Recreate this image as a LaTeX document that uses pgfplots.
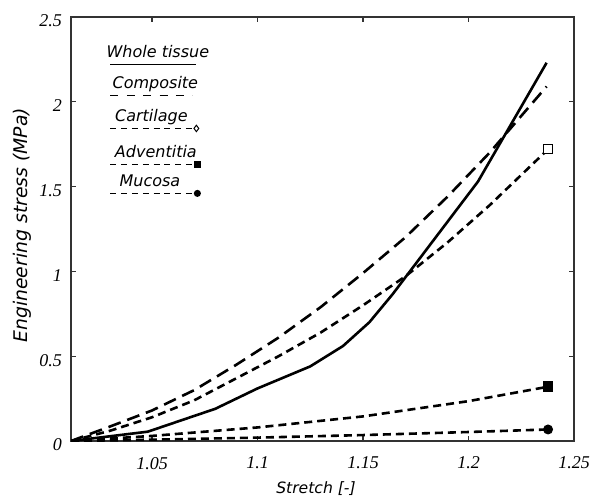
\documentclass[border=0pt]{standalone}
\usepackage{fontspec}
\setmainfont{DejaVu Sans}
\newfontfamily\tickfont{Liberation Serif}
\usepackage{pgfplots}
\pgfplotsset{compat=1.18}
\begin{document}
\begin{tikzpicture}
\begin{axis}[name=ax,
  width=251.5pt, height=212pt, scale only axis,
  xmin=1.0116, xmax=1.25, ymin=0, ymax=2.5,
  xtick={1.05,1.1,1.15,1.2,1.25},
  ytick={0,0.5,1,1.5,2,2.5},
  xticklabels={1.05,1.1,1.15,1.2,1.25},
  yticklabels={0,0.5,1,1.5,2,2.5},
  tick align=inside, major tick length=2.5pt,
  tick style={black!80, line width=0.6pt},
  axis line style={line width=0.8pt, black!80},
  /pgf/number format/assume math mode=true,
  tick label style={font=\tickfont\itshape\fontsize{9}{10}\selectfont},
  xticklabel style={yshift=-4.5pt},
  yticklabel style={xshift=-1pt, yshift=-2pt},
  xlabel={Stretch [-]},
  ylabel={Engineering stress (MPa)},
  xlabel style={at={(axis description cs:0.487,-0.112)}, anchor=center, font=\itshape\fontsize{7.8}{9}\selectfont},
  ylabel style={at={(axis description cs:-0.0974,0.509)}, anchor=center, rotate=0, font=\itshape\fontsize{9.4}{11}\selectfont},
  legend style={at={(axis description cs:0.0775,0.9269)}, anchor=north west, draw=none, fill=none, inner sep=0pt, row sep=0pt, column sep=0pt, nodes={inner sep=0pt, font=\itshape\fontsize{8}{9}\selectfont}},
  legend cell align=left,
]
% Whole tissue
\addplot[forget plot, black, line width=1.3pt, solid] coordinates {
(1.0116,0) (1.048,0.055) (1.080,0.19) (1.1,0.31) (1.125,0.44) (1.1405,0.56) (1.153,0.70) (1.164,0.865) (1.2045,1.53) (1.237,2.23)
};
% Composite
\addplot[forget plot, black, line width=1.3pt, dash pattern=on 6.5pt off 3.5pt] coordinates {
(1.0116,0) (1.03,0.085) (1.05,0.18) (1.07,0.30) (1.09,0.45) (1.11,0.61) (1.13,0.79) (1.15,0.99) (1.17,1.20) (1.19,1.44) (1.21,1.70) (1.237,2.09)
};
% Cartilage
\addplot[forget plot, black, line width=1.3pt, dash pattern=on 4pt off 2.5pt, mark=square*, mark indices={12}, mark size=2.2pt, mark options={solid, fill=white, line width=0.6pt}] coordinates {
(1.0116,0) (1.03,0.06) (1.05,0.14) (1.07,0.24) (1.09,0.37) (1.11,0.50) (1.13,0.64) (1.15,0.80) (1.17,0.97) (1.19,1.17) (1.21,1.39) (1.2377,1.72)
};
% Adventitia
\addplot[forget plot, black, line width=1.3pt, dash pattern=on 4pt off 2.5pt, mark=square*, mark indices={6}, mark size=2pt, mark options={solid, fill=black}] coordinates {
(1.0116,0) (1.05,0.03) (1.1,0.08) (1.15,0.145) (1.2,0.235) (1.2377,0.32)
};
% Mucosa
\addplot[forget plot, black, line width=1.3pt, dash pattern=on 4pt off 2.5pt, mark=*, mark indices={6}, mark size=1.8pt, mark options={solid, fill=black}] coordinates {
(1.0116,0) (1.05,0.008) (1.1,0.02) (1.15,0.035) (1.2,0.053) (1.2377,0.068)
};
\addlegendimage{legend image code/.code={
  \path[draw=none, fill=none] (0pt,-7.75pt) rectangle (43pt,8pt);
  \begin{pgfinterruptboundingbox}
  \draw[black, line width=0.7pt] (0pt,0pt) -- (43pt,0pt);
  \node[draw=none, fill=none, anchor=base, inner sep=0pt, font=\itshape\fontsize{8}{9}\selectfont] at (23.75pt,3.5pt) {Whole tissue};
  \end{pgfinterruptboundingbox}
}}
\addlegendentry{}
\addlegendimage{legend image code/.code={
  \path[draw=none, fill=none] (0pt,-8.25pt) rectangle (43pt,7.75pt);
  \begin{pgfinterruptboundingbox}
  \draw[black, line width=0.7pt, dash pattern=on 4pt off 4.2pt] (0pt,0pt) -- (41pt,0pt);
  \node[draw=none, fill=none, anchor=base, inner sep=0pt, font=\itshape\fontsize{8}{9}\selectfont] at (22.5pt,3.5pt) {Composite};
  \end{pgfinterruptboundingbox}
}}
\addlegendentry{}
\addlegendimage{legend image code/.code={
  \path[draw=none, fill=none] (0pt,-9pt) rectangle (43pt,8.25pt);
  \begin{pgfinterruptboundingbox}
  \draw[black, line width=0.7pt, dash pattern=on 3pt off 2.4pt, mark=diamond*, mark indices={2}, mark size=1.6pt, mark options={solid, fill=white, line width=0.5pt}] plot coordinates {(0pt,0pt) (43pt,0pt)};
  \node[draw=none, fill=none, anchor=base, inner sep=0pt, font=\itshape\fontsize{8}{9}\selectfont] at (20.5pt,3.5pt) {Cartilage};
  \end{pgfinterruptboundingbox}
}}
\addlegendentry{}
\addlegendimage{legend image code/.code={
  \path[draw=none, fill=none] (0pt,-7.25pt) rectangle (43pt,9pt);
  \begin{pgfinterruptboundingbox}
  \draw[black, line width=0.7pt, dash pattern=on 3pt off 2.4pt, mark=square*, mark indices={2}, mark size=1.5pt, mark options={solid, fill=black}] plot coordinates {(0pt,0pt) (43.5pt,0pt)};
  \node[draw=none, fill=none, anchor=base, inner sep=0pt, font=\itshape\fontsize{8}{9}\selectfont] at (22.75pt,3.5pt) {Adventitia};
  \end{pgfinterruptboundingbox}
}}
\addlegendentry{}
\addlegendimage{legend image code/.code={
  \path[draw=none, fill=none] (0pt,-8pt) rectangle (43pt,7.25pt);
  \begin{pgfinterruptboundingbox}
  \draw[black, line width=0.7pt, dash pattern=on 3pt off 2.4pt, mark=*, mark indices={2}, mark size=1.4pt, mark options={solid, fill=black}] plot coordinates {(0pt,0pt) (43.5pt,0pt)};
  \node[draw=none, fill=none, anchor=base, inner sep=0pt, font=\itshape\fontsize{8}{9}\selectfont] at (19.75pt,3.5pt) {Mucosa};
  \end{pgfinterruptboundingbox}
}}
\addlegendentry{}
\end{axis}
\pgfresetboundingbox
\path (ax.south west) ++(-35.5pt,-28.5pt) rectangle ++(296pt,249pt);
\end{tikzpicture}
\end{document}
